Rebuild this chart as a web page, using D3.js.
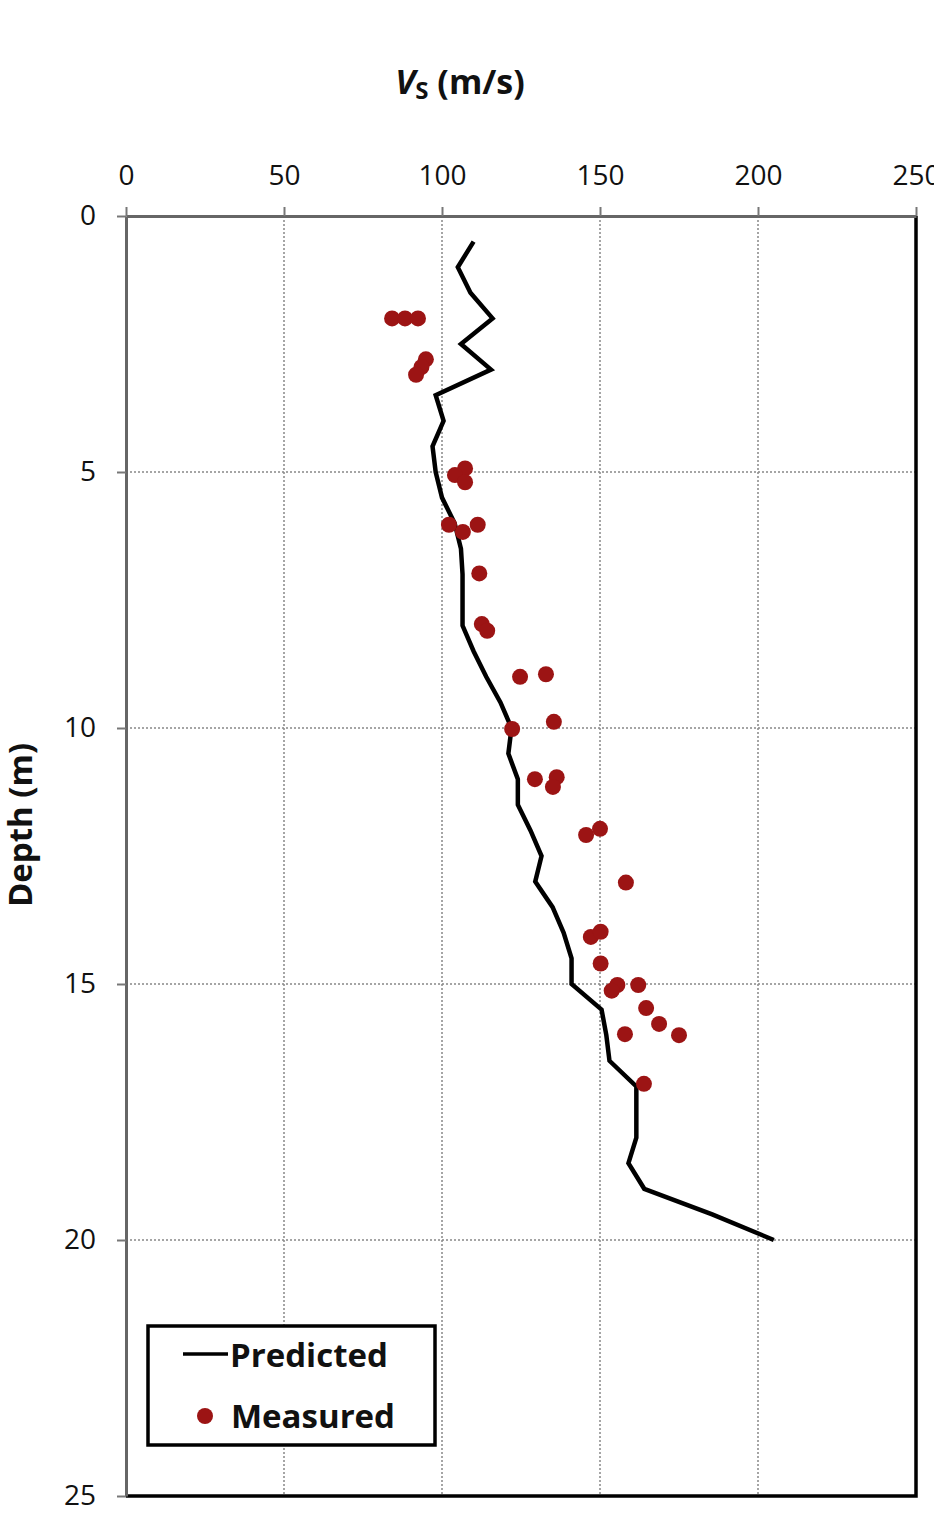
<!DOCTYPE html>
<html>
<head>
<meta charset="utf-8">
<script src="https://cdn.jsdelivr.net/npm/d3@7"></script>
<style>
  body { margin: 0; background: #fff; }
  text { font-family: "Open Sans", "DejaVu Sans", sans-serif; fill: #111; }
</style>
</head>
<body>
<div id="chart"></div>
<script>
// Predicted Vs profile (depth in m, Vs in m/s)
var predDepth = [0.5, 1.0, 1.5, 2.0, 2.5, 3.0, 3.5, 4.0, 4.5, 5.0, 5.5, 6.0, 6.5, 7.0, 7.5, 8.0,
  8.5, 9.0, 9.5, 10.0, 10.5, 11.0, 11.5, 12.0, 12.5, 13.0, 13.5, 14.0, 14.5, 15.0, 15.5, 16.0,
  16.5, 17.0, 17.5, 18.0, 18.5, 19.0, 19.5, 20.0];
var predVs = [110, 105, 109, 116, 106, 115.5, 98, 100.5, 97, 98, 100, 104, 106, 106.5, 106.5, 106.5,
  110, 114, 118.5, 122, 121, 124, 124, 128, 131.5, 129.5, 135, 138.5, 141, 141, 150.5, 152,
  153, 161.5, 161.5, 161.5, 159, 164, 185.5, 205];

// Measured Vs points
var measDepth = [2.0, 2.0, 2.0, 2.8, 2.95, 3.1, 4.93, 5.06, 5.2, 6.03, 6.17, 6.03, 6.98, 7.97, 8.1,
  9.0, 8.95, 9.88, 10.02, 11.0, 10.96, 11.15, 12.09, 11.97, 13.02, 14.08, 13.98, 14.6,
  15.02, 15.13, 15.02, 15.47, 15.78, 16.0, 15.98, 16.95];
var measVs = [84.2, 88.3, 92.4, 94.9, 93.5, 91.8, 107.3, 104.1, 107.3, 102.2, 106.6, 111.3, 111.8, 112.6, 114.3,
  124.7, 132.9, 135.4, 122.2, 129.4, 136.3, 135.1, 145.6, 150, 158.2, 147.1, 150.2, 150.2,
  155.5, 153.7, 162.1, 164.6, 168.7, 175, 157.9, 163.9];

var xTicks = [0, 50, 100, 150, 200, 250];
var yTicks = [0, 5, 10, 15, 20, 25];

var svgWidth = 934;
var svgHeight = 1513;
var margin = { top: 216, left: 126 };
var width = 790;
var height = 1280;

var svg = d3.select("#chart").append("svg")
  .attr("width", svgWidth)
  .attr("height", svgHeight);

var g = svg.append("g")
  .attr("transform", `translate(${margin.left}, ${margin.top})`);

var x = d3.scaleLinear().domain([0, 250]).range([0, width]);
var y = d3.scaleLinear().domain([0, 25]).range([0, height]);

// dotted grid
g.selectAll(".vgrid")
  .data(xTicks.slice(1, -1))
  .enter().append("line")
  .attr("x1", d => x(d)).attr("x2", d => x(d))
  .attr("y1", 0).attr("y2", height)
  .attr("stroke", "#888").attr("stroke-width", 1.5)
  .attr("stroke-dasharray", "2,2");

g.selectAll(".hgrid")
  .data(yTicks.slice(1, -1))
  .enter().append("line")
  .attr("x1", 0).attr("x2", width)
  .attr("y1", d => y(d)).attr("y2", d => y(d))
  .attr("stroke", "#888").attr("stroke-width", 1.5)
  .attr("stroke-dasharray", "2,2");

// right and bottom border of plot area
g.append("path")
  .attr("d", `M0,${height}H${width}V0`)
  .attr("fill", "none")
  .attr("stroke", "#000")
  .attr("stroke-width", 3.5);

// axes
var topAxis = d3.axisTop(x).tickValues(xTicks).tickSize(9).tickSizeOuter(0).tickPadding(22);
var leftAxis = d3.axisLeft(y).tickValues(yTicks).tickSize(9).tickSizeOuter(0).tickPadding(21);

var gx = g.append("g").call(topAxis);
var gy = g.append("g").call(leftAxis);

[gx, gy].forEach(function(a) {
  a.select(".domain").attr("stroke", "#666").attr("stroke-width", 3);
  a.selectAll(".tick line").attr("stroke", "#777").attr("stroke-width", 2);
  a.selectAll(".tick text")
    .attr("font-size", "28px")
    .attr("font-family", "'Open Sans', sans-serif")
    .attr("fill", "#111");
});

// predicted line
var line = d3.line()
  .x(d => x(d[1]))
  .y(d => y(d[0]));

g.append("path")
  .datum(predDepth.map((d, i) => [d, predVs[i]]))
  .attr("d", line)
  .attr("fill", "none")
  .attr("stroke", "#000")
  .attr("stroke-width", 4.5)
  .attr("stroke-linejoin", "miter");

// measured points
g.selectAll(".meas")
  .data(measDepth.map((d, i) => [d, measVs[i]]))
  .enter().append("circle")
  .attr("cx", d => x(d[1]))
  .attr("cy", d => y(d[0]))
  .attr("r", 8)
  .attr("fill", "#9c1414");

// title
var title = svg.append("text")
  .attr("x", 460)
  .attr("y", 94)
  .attr("text-anchor", "middle")
  .attr("font-size", "34px")
  .attr("font-weight", "bold");
title.append("tspan").attr("font-style", "italic").text("V");
title.append("tspan").attr("font-size", "24px").attr("dy", 5).text("S");
title.append("tspan").attr("dy", -5).text(" (m/s)");

// y label
svg.append("text")
  .attr("transform", "translate(32, 825) rotate(-90)")
  .attr("text-anchor", "middle")
  .attr("font-size", "33px")
  .attr("font-weight", "bold")
  .text("Depth (m)");

// legend
var legend = svg.append("g");
legend.append("rect")
  .attr("x", 148).attr("y", 1326)
  .attr("width", 287).attr("height", 119)
  .attr("fill", "#fff")
  .attr("stroke", "#000")
  .attr("stroke-width", 3.5);
legend.append("line")
  .attr("x1", 183).attr("x2", 228)
  .attr("y1", 1354).attr("y2", 1354)
  .attr("stroke", "#000").attr("stroke-width", 3.5);
legend.append("text")
  .attr("x", 230).attr("y", 1367)
  .attr("font-size", "33px").attr("font-weight", "bold")
  .text("Predicted");
legend.append("circle")
  .attr("cx", 205).attr("cy", 1416).attr("r", 8)
  .attr("fill", "#9c1414");
legend.append("text")
  .attr("x", 231).attr("y", 1428)
  .attr("font-size", "33px").attr("font-weight", "bold")
  .text("Measured");
</script>
</body>
</html>
